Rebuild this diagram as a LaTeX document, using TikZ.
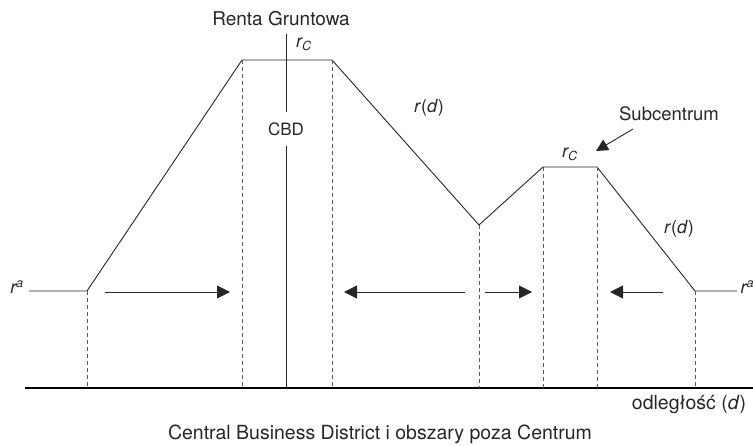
\documentclass[tikz,border=0pt]{standalone}
\usepackage{fontspec}
\setmainfont{TeX Gyre Heros}
\usetikzlibrary{arrows.meta}

\begin{document}
\begin{tikzpicture}[x=1pt,y=-1pt,
    krzywa/.style={line width=0.9pt, black!85},
    pion/.style={dash pattern=on 4pt off 3pt, black!65, line width=0.8pt},
    strz/.style={-{Triangle[length=13pt,width=13pt]}, line width=0.9pt, black!85},
    every node/.style={font=\fontsize{18}{21}\selectfont, text=black!85}]
        \useasboundingbox (0,0) rectangle (753,446); % ramka obrazka
        \coordinate (ra1) at (29,291); % poziom r^a po lewej
        \coordinate (p1) at (87,291);
        \coordinate (p2) at (242,60); % lewy koniec CBD
        \coordinate (p3) at (332,60); % prawy koniec CBD
        \coordinate (p4) at (479,225); % dolina
        \coordinate (p5) at (543,167); % subcentrum
        \coordinate (p6) at (597,167);
        \coordinate (p7) at (695,291);
        \coordinate (ra2) at (737,291); % poziom r^a po prawej
        \coordinate (os0) at (25,388); % os odleglosci
        \coordinate (os1) at (753,388);
        \draw[line width=2.6pt] (os0) -- (os1); % os pozioma
        \draw[krzywa] (ra1) -- (p1) -- (p2) -- (p3) -- (p4) -- (p5) -- (p6) -- (p7) -- (ra2); % krzywa renty
        \foreach \p in {p1,p2,p3,p4,p5,p6,p7}
            \draw[pion] (\p) -- (\p |- os0); % linie przerywane w dol
        \node[font=\fontsize{17}{20}\selectfont, inner ysep=0pt, minimum height=34pt] (cbd) at (286,129) {CBD}; % centrum
        \coordinate (cbdtop) at (286,34);
        \draw[krzywa] (cbdtop) -- (cbd.north);
        \draw[krzywa] (cbd.south) -- (cbd.south |- os0);
        \node[font=\fontsize{19}{22}\selectfont] (renta) at (281,19) {Renta Gruntowa};
        \node (rc1) at (304,44) {\itshape r\textsubscript{C}};
        \node (rd1) at (429,108) {\itshape r\/\upshape(\itshape d\/\upshape)};
        \node (rc2) at (570,154) {\itshape r\textsubscript{C}};
        \node (rd2) at (679,229) {\itshape r\/\upshape(\itshape d\/\upshape)};
        \node (ra-l) at (17,287) {\itshape r\textsuperscript{a}};
        \node[anchor=west] (ra-p) at (737,287) {\itshape r\textsuperscript{a}};
        \node[font=\fontsize{18.5}{21}\selectfont] (sub) at (669,114) {Subcentrum};
        \coordinate (subs) at (633,129);
        \coordinate (subk) at (596,151);
        \draw[strz, -{Triangle[length=12pt,width=12pt]}] (subs) -- (subk); % strzalka do subcentrum
        \coordinate (s1a) at (105,292); \coordinate (s1b) at (230,292);
        \coordinate (s2a) at (465,292); \coordinate (s2b) at (344,292);
        \coordinate (s3a) at (485,292); \coordinate (s3b) at (532,292);
        \coordinate (s4a) at (663,292); \coordinate (s4b) at (610,292);
        \draw[strz] (s1a) -- (s1b); % ruch do centrum
        \draw[strz] (s2a) -- (s2b);
        \draw[strz] (s3a) -- (s3b); % ruch do subcentrum
        \draw[strz] (s4a) -- (s4b);
        \node[font=\fontsize{19.5}{22}\selectfont] (odl) at (689,405) {odległość (\textit{d})};
        \node[font=\fontsize{19.5}{22}\selectfont] (opis) at (380,434) {Central Business District i obszary poza Centrum};
    \end{tikzpicture}
\end{document}
